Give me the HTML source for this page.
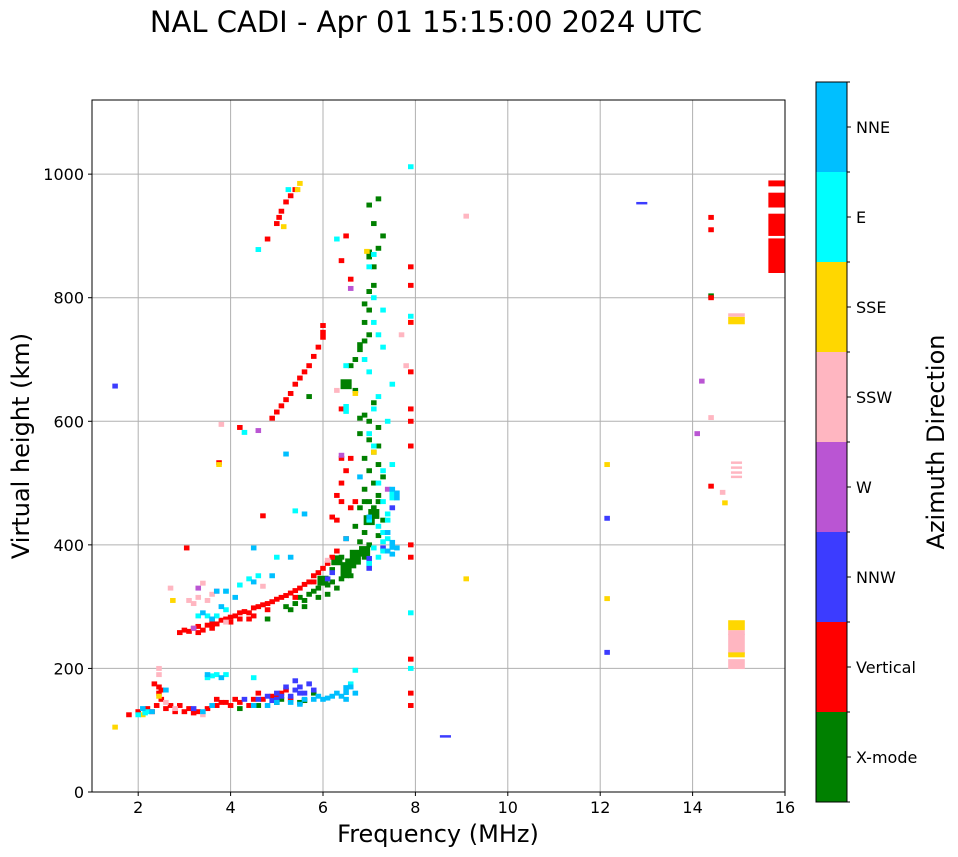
<!DOCTYPE html>
<html><head><meta charset="utf-8"><style>
body{margin:0;background:#fff;font-family:"DejaVu Sans","Liberation Sans",sans-serif}
svg{display:block}
</style></head><body>
<svg id="chart" width="958" height="857" font-family="DejaVu Sans, Liberation Sans, sans-serif"></svg>
<script>
const xTicks=[2,4,6,8,10,12,14,16];
const yTicks=[0,200,400,600,800,1000];
const categories=["X-mode","Vertical","NNW","W","SSW","SSE","E","NNE"];
const catColors=["#008000","#ff0000","#3c3cff","#ba55d3","#ffb6c1","#ffd700","#00ffff","#00bfff"];
const xmodePts=[[4.2,135],[4.6,140],[5.1,150],[5.5,145],[5.8,160],[5.2,300],[5.4,305],[5.5,315],[5.6,310],[5.7,320],[5.8,325],[5.9,330],[6.0,342,2,2],[6.2,360],[6.3,375,2,2],[6.5,360,2,3],[6.6,370,2,2],[6.7,380,2,3],[6.8,385],[6.9,390,2,2],[7.0,400],[6.4,345],[6.6,350],[5.3,295],[4.8,280],[6.1,335],[6.9,420],[7.0,440,2,2],[7.1,450,2,2],[6.8,460],[7.0,470],[7.2,480],[6.9,490],[7.1,500],[7.3,510],[7.0,520],[6.9,540],[7.1,550],[7.2,560],[6.8,580],[7.0,600],[6.9,610],[7.1,630],[6.7,650],[6.5,660,2,2],[6.6,690],[6.7,700],[6.8,720,1,2],[6.9,730],[7.0,740],[6.9,760],[7.0,780],[6.9,790],[7.0,810],[7.1,820],[7.1,850],[7.0,870,1,2],[7.2,880],[7.3,900],[7.1,920],[7.0,950],[7.2,960],[5.7,640],[14.4,803],[6.2,340],[6.5,350],[7.3,440],[7.2,470],[6.9,380],[5.9,315],[6.1,320],[6.3,330],[5.6,300],[6.8,405],[7.2,415],[6.7,430],[7.1,460],[6.9,470],[7.2,530],[7.0,570],[6.8,605],[7.2,590],[5.0,145],[5.6,148],[6.4,380]];
const verticalPts=[[1.8,125],[2.0,130],[2.2,135],[2.4,140],[2.5,150],[2.6,135],[2.8,130],[2.9,140],[3.0,130],[3.1,135],[3.3,130],[3.5,135],[3.7,140],[3.9,145],[4.0,140],[4.2,145],[4.5,150],[4.7,150],[4.9,155],[5.1,160],[5.3,150],[2.45,170],[2.35,175],[2.45,160],[3.7,150],[4.6,160],[3.8,145],[4.1,150],[5.2,165],[2.9,258],[3.0,262],[3.1,260],[3.2,265],[3.3,268],[3.4,262],[3.5,270],[3.6,275,1,2],[3.7,272],[3.8,278],[3.9,280],[4.0,283],[4.1,285],[4.2,290],[4.3,292],[4.4,290],[4.5,298],[4.6,300],[4.7,303],[4.8,305],[4.9,308],[5.0,312],[5.1,315],[5.2,318],[5.3,322],[5.4,326],[5.5,330],[5.6,336],[5.7,340],[5.8,350],[5.9,355],[6.0,362],[6.1,370],[6.2,380],[6.3,390],[3.05,395],[4.2,280],[4.5,285],[4.9,605],[5.0,615],[5.1,625],[5.2,635],[5.3,645],[5.4,660],[5.5,670],[5.6,680],[5.7,690],[5.8,705],[5.9,720],[6.0,740,1,2],[6.0,755],[5.0,920],[5.1,940],[5.2,955],[5.3,965],[5.4,975],[4.8,895],[5.05,930],[4.7,447],[6.3,480],[6.4,500],[6.5,520],[6.6,540],[6.3,440],[6.5,410],[6.6,460],[6.7,470],[6.4,620],[6.4,860],[6.5,900],[6.6,830],[6.4,540],[7.9,140],[7.9,160],[7.9,215],[7.9,380],[7.9,400],[7.9,560],[7.9,600],[7.9,620],[7.9,680],[7.9,760],[7.9,820],[7.9,850],[4.2,590],[14.4,930],[14.4,910],[14.4,800],[14.4,495],[3.75,533],[15.82,985,3,1.2],[15.82,958,3,3],[15.82,918,3,4.5],[15.82,868,3,7],[3.3,258],[3.6,265],[4.0,275],[4.4,280],[4.8,295],[5.4,315],[5.8,340],[2.3,130],[2.7,140],[3.2,128],[4.4,140],[5.0,155],[2.5,165],[6.2,445],[6.4,470]];
const nnwPts=[[4.6,150],[4.8,155],[5.0,160],[5.2,170],[5.4,165],[5.5,170],[5.3,155],[5.0,150],[3.2,135],[4.3,150],[5.6,160],[5.7,175],[5.4,180],[7.0,370,1,3],[7.3,395],[7.5,460],[1.5,657],[12.15,443],[12.15,226],[12.9,953,2,0.5],[8.65,90,2,0.5],[6.1,345],[6.2,355],[4.9,148],[5.1,155],[5.5,160],[5.8,165]];
const wPts=[[6.6,815],[7.4,490],[7.5,480],[3.3,330],[3.7,325],[14.2,665],[14.1,580],[3.2,265],[4.6,585],[6.4,545]];
const ssrPts=[[2.45,200],[2.45,190],[2.6,145],[2.8,135],[3.4,125],[3.2,305],[3.3,315],[3.5,310],[3.6,320],[3.4,338],[3.1,310],[3.9,275],[3.8,595],[4.7,333],[6.1,375],[6.3,650],[14.4,606],[14.65,485],[14.95,533,2,0.5],[14.95,525,2,0.5],[14.95,517,2,0.5],[14.95,510,2,0.5],[14.95,207,3,2],[14.95,240,3,4],[14.95,258,3,1],[14.95,772,3,0.7],[9.1,932],[7.8,690],[7.7,740],[2.7,330]];
const ssePts=[[1.5,105],[2.45,155],[2.1,125],[2.75,310],[3.75,530],[5.5,985],[5.45,975],[5.15,915],[7.1,550],[6.7,645],[9.1,345],[12.15,530],[12.15,313],[14.7,468],[14.95,270,3,2],[14.95,222,3,1],[14.95,763,3,1.5],[6.95,875]];
const ePts=[[2.0,125],[2.2,130],[3.7,190],[3.9,190],[3.5,185],[4.5,185],[3.3,285],[3.5,285],[3.7,285],[3.9,295],[4.2,335],[4.4,345],[4.6,350],[3.9,325],[5.0,380],[7.0,370],[7.2,380],[7.3,390],[7.1,395],[7.4,410],[7.3,420],[7.2,430],[7.0,440],[7.4,450],[7.3,470],[7.5,480,1,2],[7.2,500],[7.3,520],[7.5,530],[7.1,560],[7.0,580],[7.4,600],[7.1,620],[7.2,640],[7.5,660],[7.0,680],[6.9,700],[7.3,720],[7.2,740],[7.1,760],[7.3,780],[7.1,800],[6.5,620,1,2],[7.0,850],[7.1,870],[6.3,895],[4.6,878],[4.3,582],[6.6,175],[7.9,290],[7.9,200],[7.9,1012],[7.9,770],[6.7,197],[5.25,975],[6.5,690],[5.4,455],[7.4,440],[7.3,405],[2.15,128],[3.6,188]];
const nnePts=[[2.1,135],[2.3,130],[3.4,130],[3.6,140],[4.5,140],[5.0,145],[5.3,145],[5.6,150],[5.8,150],[6.0,150],[6.2,155],[6.4,155],[6.5,165,1,2],[6.6,170],[6.3,160],[5.9,155],[3.8,185],[3.5,190],[2.6,165],[6.7,160],[3.7,325],[3.8,300],[4.1,315],[4.5,340],[4.9,350],[5.3,380],[7.5,385],[7.5,400,1,2],[7.4,420],[7.6,480,1,2],[7.5,490],[7.4,390],[6.5,410],[7.0,445],[6.8,510],[5.2,547],[5.6,450],[4.5,395],[3.4,290],[3.6,280],[6.1,152],[6.5,150],[5.5,142],[4.8,140],[7.6,395],[3.9,325]];
const catPoints=[xmodePts,verticalPts,nnwPts,wPts,ssrPts,ssePts,ePts,nnePts];

const NS="http://www.w3.org/2000/svg";
const svg=document.getElementById('chart');
const L=92,R=785,T=100,B=792;
const xMin=1,xMax=16,yMin=0,yMax=1120;
function xs(f){return L+(f-xMin)/(xMax-xMin)*(R-L);}
function ys(h){return B-(h-yMin)/(yMax-yMin)*(B-T);}
function el(tag,attrs,parent){const e=document.createElementNS(NS,tag);for(const k in attrs)e.setAttribute(k,attrs[k]);(parent||svg).appendChild(e);return e;}

const title=el('text',{x:426,y:32,'text-anchor':'middle','font-size':29});
title.textContent='NAL CADI - Apr 01 15:15:00 2024 UTC';



const grid=el('g',{});


xTicks.forEach(t=>{el('line',{x1:xs(t),x2:xs(t),y1:T,y2:B,stroke:'#b0b0b0','stroke-width':1},grid);});
yTicks.forEach(t=>{el('line',{x1:L,x2:R,y1:ys(t),y2:ys(t),stroke:'#b0b0b0','stroke-width':1},grid);});

const marks=el('g',{});


const cw=0.12,ch=8;
catPoints.forEach((pts,ci)=>{
  pts.forEach(p=>{
    const w=(p[2]||1)*cw, hh=(p[3]||1)*ch;
    const r=el('rect',{x:xs(p[0]-w/2),y:ys(p[1]+hh/2),width:xs(p[0]+w/2)-xs(p[0]-w/2),height:ys(p[1]-hh/2)-ys(p[1]+hh/2),fill:catColors[ci]},marks);
    
    
  });
});

const frame=el('rect',{x:L,y:T,width:R-L,height:B-T,fill:'none',stroke:'#000','stroke-width':1});


const xAxis=el('g',{});


xTicks.forEach(t=>{el('line',{x1:xs(t),x2:xs(t),y1:B,y2:B+4,stroke:'#000'},xAxis);
  const tx=el('text',{x:xs(t),y:B+21,'text-anchor':'middle','font-size':16},xAxis);tx.textContent=t;});
const yAxis=el('g',{});


yTicks.forEach(t=>{el('line',{x1:L-4,x2:L,y1:ys(t),y2:ys(t),stroke:'#000'},yAxis);
  const tx=el('text',{x:L-8,y:ys(t)+6,'text-anchor':'end','font-size':16},yAxis);tx.textContent=t;});
const xl=el('text',{x:438,y:842,'text-anchor':'middle','font-size':24});
xl.textContent='Frequency (MHz)';


const yl=el('text',{x:0,y:0,'text-anchor':'middle','font-size':24,transform:'translate(29,446) rotate(-90)'});
yl.textContent='Virtual height (km)';



const cb=el('g',{});


const cbT=82,cbB=802,cbL=816,cbR=847,band=(cbB-cbT)/categories.length;
categories.forEach((c,i)=>{
  const y0=cbB-(i+1)*band;
  const r=el('rect',{x:cbL,y:y0,width:cbR-cbL,height:band,fill:catColors[i]},cb);
  
  
  el('line',{x1:cbR,x2:cbR+4,y1:y0+band/2,y2:y0+band/2,stroke:'#000'},cb);
  el('line',{x1:cbR,x2:cbR+3,y1:y0,y2:y0,stroke:'#000'},cb);
  const t=el('text',{x:cbR+9,y:y0+band/2+6,'font-size':16},cb);t.textContent=c;
});
el('line',{x1:cbR,x2:cbR+3,y1:cbB,y2:cbB,stroke:'#000'},cb);
el('rect',{x:cbL,y:cbT,width:cbR-cbL,height:cbB-cbT,fill:'none',stroke:'#000'},cb);
const cl=el('text',{x:0,y:0,'text-anchor':'middle','font-size':24,transform:'translate(944,442) rotate(-90)'});
cl.textContent='Azimuth Direction';


</script>
</body></html>
